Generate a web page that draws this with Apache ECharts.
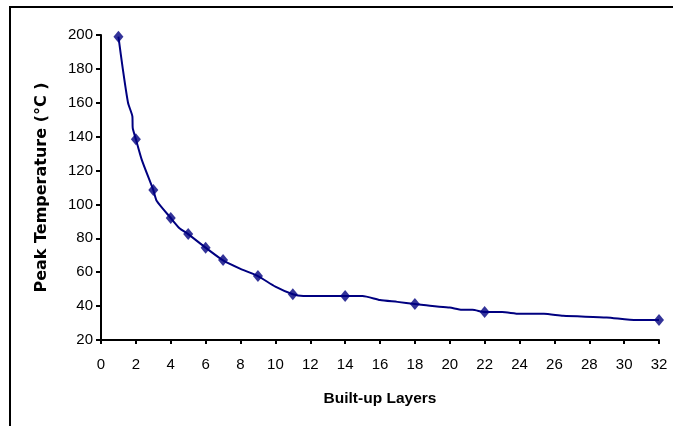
<!DOCTYPE html>
<html><head><meta charset="utf-8">
<script src="https://cdn.jsdelivr.net/npm/echarts@6/dist/echarts.min.js"></script>
<style>html,body{margin:0;padding:0;background:#fff}#c{width:673px;height:426px}</style>
</head><body><div id="c"></div>
<script>
// Curve (line) samples
const curveX = [1, 1.25, 1.55, 1.8, 1.82, 2, 2.35, 3, 3.2, 4, 4.5, 5, 6, 7, 8, 9, 10, 11, 11.6, 14, 15, 16, 17, 18, 19, 20, 20.7, 21.3, 22, 23, 24, 25.4, 26.5, 29, 30.7, 32];
const curveY = [199, 180, 160, 152, 145, 138.5, 126, 108.5, 102, 92, 86, 82.5, 74.5, 67, 62, 57.7, 51.5, 47, 46, 46, 46, 43.6, 42.5, 41.2, 40, 39.2, 37.8, 37.8, 36.5, 36.5, 35.5, 35.5, 34.3, 33.3, 31.8, 31.8];
// Marked points
const layers = [1, 2, 3, 4, 5, 6, 7, 9, 11, 14, 18, 22, 32];
const peakTemp = [199, 138.5, 108.5, 92, 82.5, 74.4, 67.2, 57.7, 47, 46, 41.2, 36.5, 31.8];

const chart = echarts.init(document.getElementById('c'));
const font = 'Liberation Sans, Arial, sans-serif';
chart.setOption({
  animation: false,
  graphic: [{type: 'rect', shape: {x: 10, y: 7, width: 700, height: 500}, style: {fill: 'none', stroke: '#000', lineWidth: 2}, silent: true}],
  grid: {left: 101, right: 14, top: 35, bottom: 86},
  xAxis: {
    type: 'value', min: 0, max: 32, interval: 2,
    name: 'Built-up Layers', nameLocation: 'middle', nameGap: 51,
    nameTextStyle: {fontFamily: font, fontSize: 15.5, fontWeight: 'bold', color: '#000'},
    axisLine: {lineStyle: {color: '#000', width: 2}},
    axisTick: {show: true, length: 4, lineStyle: {color: '#000', width: 2}},
    axisLabel: {fontFamily: font, fontSize: 15, color: '#000', margin: 17},
    splitLine: {show: false}
  },
  yAxis: {
    type: 'value', min: 20, max: 200, interval: 20,
    name: 'Peak Temperature (°C )', nameLocation: 'middle', nameGap: 51,
    nameTextStyle: {fontFamily: 'DejaVu Sans, sans-serif', fontSize: 16, fontWeight: 'bold', color: '#000'},
    axisLine: {show: true, lineStyle: {color: '#000', width: 2}},
    axisTick: {show: true, length: 5, lineStyle: {color: '#000', width: 2}},
    axisLabel: {fontFamily: font, fontSize: 15, color: '#000', margin: 8},
    splitLine: {show: false}
  },
  series: [
    {type: 'line', data: curveX.map((x, i) => [x, curveY[i]]), showSymbol: false, symbol: 'none',
     lineStyle: {color: '#000080', width: 2}, smooth: 0.2},
    {type: 'scatter', data: layers.map((x, i) => [x, peakTemp[i]]), symbol: 'diamond', symbolSize: [10, 12],
     itemStyle: {color: '#000080'}}
  ]
});
</script></body></html>
